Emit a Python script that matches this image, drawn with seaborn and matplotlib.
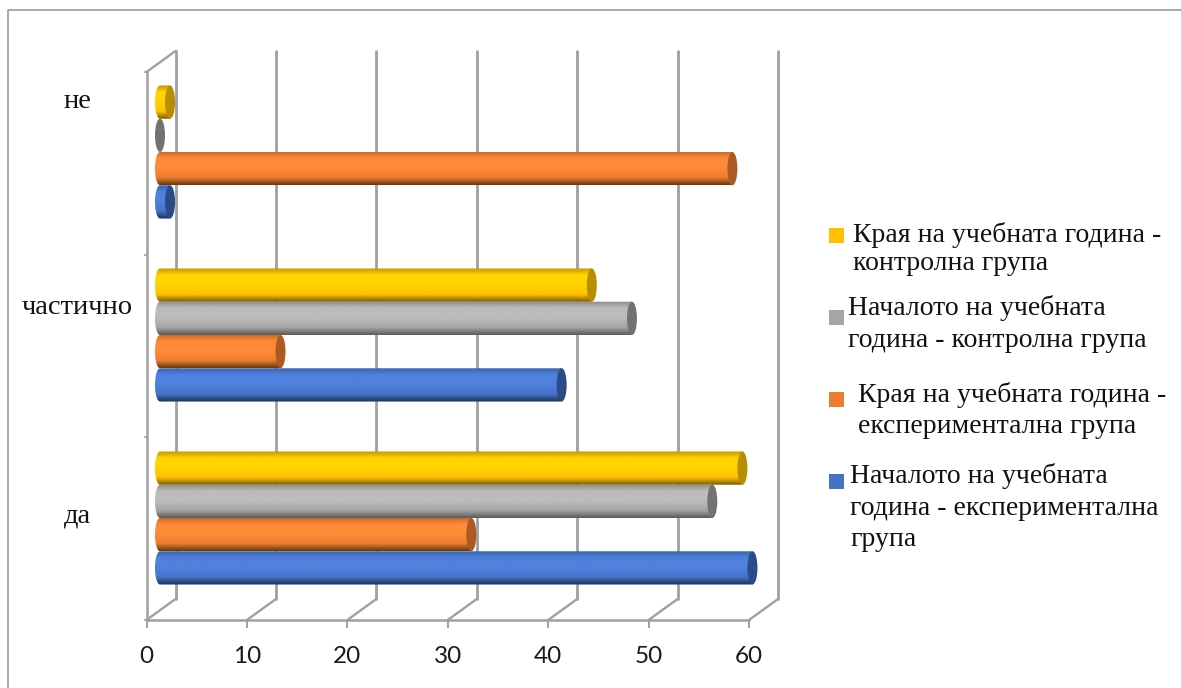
import numpy as np
import pandas as pd
import seaborn as sns
import matplotlib
matplotlib.use("Agg")
import matplotlib.pyplot as plt
from matplotlib.patches import Ellipse, Polygon, Rectangle
from matplotlib.lines import Line2D
from matplotlib.transforms import ScaledTranslation
from matplotlib.colors import LinearSegmentedColormap

W, H, DPI = 1181, 688, 100

categories = ["не", "частично", "да"]
series_names = [
    "Края на учебната година - контролна група",
    "Началото на учебната година - контролна група",
    "Края на учебната година - експериментална група",
    "Началото на учебната година - експериментална група",
]
end_control = [1, 43, 58]
start_control = [0, 47, 55]
end_experimental = [57, 12, 31]
start_experimental = [1, 40, 59]
ticks = [0, 10, 20, 30, 40, 50, 60]

base_colors = ["#ffc000", "#a5a5a5", "#ed7d31", "#4472c4"]
bright_colors = ["#ffd400", "#bcbcbc", "#ff8a38", "#4f81de"]
top_colors = ["#c79600", "#8c8c8c", "#bf6a2a", "#3a64ae"]
dark_colors = ["#7a5d00", "#5c5c5c", "#683a0e", "#1c3259"]
cap_colors = ["#b98d00", "#727272", "#ab5a22", "#2a4b88"]

legend_lines = [
    (["Края на учебната година -", "контролна група"], [853, 853], [242, 270], 228),
    (["Началото на учебната", "година - контролна група"], [848, 848], [315, 347], 310),
    (["Края на учебната година -", "експериментална група"], [858, 858], [402, 433], 392),
    (["Началото на учебната", "година - експериментална", "група"], [850, 850, 850], [483, 515, 546], 474),
]

sns.set_style("white")
plt.rcParams["font.family"] = ["Liberation Serif", "DejaVu Sans"]
WALL = "#a0a0a0"


def box(left, top, right, bottom):
    """Axes rectangle in figure fractions from pixel edges."""
    return [left / W, 1 - bottom / H, (right - left) / W, (bottom - top) / H]


fig = plt.figure(figsize=(W / DPI, H / DPI), dpi=DPI, facecolor="white")

# Outer chart frame: only the top and left edges are visible
fig.add_artist(Line2D([8 / W, 8 / W, 1], [0, 1 - 10 / H, 1 - 10 / H], color="#9a9a9a", lw=1.2))

# Front plane of the 3D box carries the value scale
wall = fig.add_axes(box(146.5, 72, 749, 620))
wall.set_xlim(0, 60)
wall.set_ylim(0, 3)
wall.patch.set_alpha(0)
for side in ("top", "right"):
    wall.spines[side].set_visible(False)
for side in ("left", "bottom"):
    wall.spines[side].set_color(WALL)
    wall.spines[side].set_linewidth(1.8)
wall.set_xticks(ticks)
wall.set_xticklabels([str(t) for t in ticks], family="Lato", fontsize=17.5, color="#1a1a1a")
wall.set_yticks([0, 1, 2, 3])
wall.set_yticklabels([])
wall.tick_params(axis="x", length=6, width=1.4, color=WALL, pad=13, bottom=True)
wall.tick_params(axis="y", length=2.5, width=1.2, color=WALL, left=True)

# Back wall gridlines and the floor diagonals joining them to the front plane
depth = ScaledTranslation(29 / DPI, 21 / DPI, fig.dpi_scale_trans)
back = wall.transData + depth


def diagonal(point):
    p0 = wall.transData.transform(point)
    p1 = back.transform(point)
    wall.add_artist(Line2D([p0[0], p1[0]], [p0[1], p1[1]], color=WALL, lw=1.7,
                           transform=None, zorder=1, clip_on=False))


for t in ticks:
    wall.plot([t, t], [0, 3], color=WALL, lw=2.0, transform=back, clip_on=False, zorder=1)
    diagonal((t, 0))
diagonal((0, 3))

# Cylinders sit halfway into the box, so their axes are shifted from the front plane
bars = fig.add_axes(box(160, 60.5, 762.5, 609.5))
bars.patch.set_alpha(0)

frame = pd.DataFrame({
    "category": categories * 4,
    "series": np.repeat(series_names, 3),
    "value": end_control + start_control + end_experimental + start_experimental,
})
sns.barplot(
    data=frame, y="category", x="value", hue="series", order=categories,
    hue_order=series_names, palette=base_colors, saturation=1, width=0.727,
    dodge=True, orient="h", legend=False, ax=bars,
)
bars.set_xlabel("")
bars.set_ylabel("")
bars.set_xticks([])
sns.despine(ax=bars, left=True, bottom=True)
bars.tick_params(axis="y", length=0)

# Category labels sit near the top of their groups, centred in the left margin
label_shift_px = [54, 30, 5]
for tick, shift in zip(bars.yaxis.get_major_ticks(), label_shift_px):
    tick.label1.set_fontsize(20.5)
    tick.label1.set_color("#111111")
    tick.label1.set_ha("center")
    tick.label1.set_transform(
        tick.label1.get_transform()
        + ScaledTranslation(-(160 - 82) / DPI, shift / DPI, fig.dpi_scale_trans)
    )

# Cylinder shading: a vertical gradient clipped to the bar, with a dark end cap
rx = 5 / ((762.5 - 160) / 60)
ramp = np.linspace(0, 1, 64).reshape(-1, 1)
theta = np.linspace(np.pi / 2, 3 * np.pi / 2, 40)
for i, patch in enumerate(list(bars.patches)):
    s = i // len(categories)
    y0, w, h = patch.get_y(), patch.get_width(), patch.get_height()
    patch.set_visible(False)
    z = 2 + s * 0.01
    if w > 0:
        cmap = LinearSegmentedColormap.from_list(
            f"cyl{s}",
            [(0, top_colors[s]), (0.2, bright_colors[s]), (0.5, bright_colors[s]),
             (0.78, base_colors[s]), (1, dark_colors[s])],
        )
        outline = np.column_stack([
            np.r_[rx * np.cos(theta), w, w],
            np.r_[y0 + h / 2 + h / 2 * np.sin(theta), y0, y0 + h],
        ])
        clip = Polygon(outline, closed=True, transform=bars.transData, fc="none", ec="none")
        bars.add_patch(clip)
        im = bars.imshow(ramp, cmap=cmap, aspect="auto", origin="upper",
                         extent=(-rx, w, y0 + h, y0), zorder=z, interpolation="bilinear")
        im.set_clip_path(clip)
        im.set_clip_box(fig.bbox)
    bars.add_patch(Ellipse((w, y0 + h / 2), 2 * rx, h, fc=cap_colors[s], ec="none",
                           zorder=z + 0.001, clip_on=False))
bars.set_xlim(0, 60)
bars.set_ylim(2.5, -0.5)

# Hand-placed legend with square swatches
for (lines, xs, ys, sq_top), colour in zip(legend_lines, base_colors):
    fig.add_artist(Rectangle((829 / W, 1 - (sq_top + 15) / H), 15 / W, 15 / H,
                             transform=fig.transFigure, fc=colour, ec="none"))
    for line, x, y in zip(lines, xs, ys):
        fig.text(x / W, 1 - y / H, line, fontsize=20, color="#111111", ha="left", va="baseline")

fig.savefig("out.png", dpi=DPI)
